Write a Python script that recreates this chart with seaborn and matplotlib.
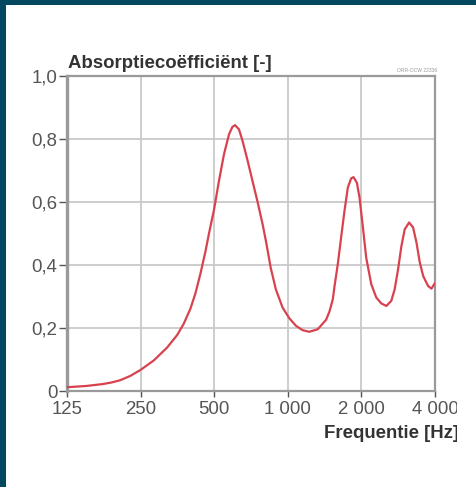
import numpy as np
import pandas as pd
import matplotlib.pyplot as plt
from matplotlib.patches import Rectangle
from matplotlib.ticker import FixedLocator, NullLocator
import seaborn as sns

sns.set_theme(style="white")
plt.rcParams['font.family'] = ['Liberation Sans', 'DejaVu Sans']

# values
freq = [125, 150, 175, 190, 206, 227, 250, 283, 321, 353, 375, 400, 419, 440,
        461, 476, 499, 523, 548, 575, 593, 608, 631, 652, 684, 717, 752, 788,
        813, 852, 894, 952, 1014, 1080, 1150, 1225, 1326, 1434, 1480, 1528,
        1551, 1601, 1652, 1705, 1760, 1816, 1857, 1917, 1965, 2029, 2093, 2195,
        2300, 2412, 2529, 2650, 2736, 2825, 2915, 3007, 3134, 3255, 3360, 3467,
        3578, 3750, 3869, 4000]
alpha = [0.012, 0.016, 0.022, 0.027, 0.034, 0.048, 0.067, 0.097, 0.138, 0.178,
         0.213, 0.262, 0.31, 0.375, 0.445, 0.5, 0.575, 0.667, 0.751, 0.815,
         0.838, 0.844, 0.831, 0.796, 0.733, 0.667, 0.601, 0.531, 0.478, 0.39,
         0.322, 0.265, 0.231, 0.207, 0.193, 0.188, 0.196, 0.226, 0.252, 0.291,
         0.33, 0.402, 0.487, 0.571, 0.646, 0.675, 0.679, 0.661, 0.614, 0.519,
         0.423, 0.339, 0.297, 0.278, 0.27, 0.286, 0.323, 0.386, 0.46, 0.513,
         0.535, 0.519, 0.471, 0.408, 0.365, 0.333, 0.325, 0.343]

xticks = [125, 250, 500, 1000, 2000, 4000]
xlabels = ['125', '250', '500', '1 000', '2 000', '4 000']
yticks = [0, 0.2, 0.4, 0.6, 0.8, 1.0]
ylabels = ['0', '0,2', '0,4', '0,6', '0,8', '1,0']

df = pd.DataFrame({'f': freq, 'a': alpha})

W, H = 476, 487
fig = plt.figure(figsize=(W / 100, H / 100), dpi=100, facecolor='#03485e')
# white page
fig.add_artist(Rectangle((6 / W, 0), 1, 1 - 5 / H, transform=fig.transFigure,
                         facecolor='white', edgecolor='none', zorder=-1))

ax = fig.add_axes([67 / W, 1 - 391 / H, (435 - 67) / W, (391 - 76) / H])
ax.set_facecolor('white')

sns.lineplot(data=df, x='f', y='a', ax=ax, color='#d8424e', linewidth=1.6,
             zorder=3)

ax.set_xscale('log', base=2)
ax.set_xlim(125, 4000)
ax.set_ylim(0, 1.0)
ax.xaxis.set_major_locator(FixedLocator(xticks))
ax.xaxis.set_minor_locator(NullLocator())
ax.set_xticklabels(xlabels)
ax.set_yticks(yticks)
ax.set_yticklabels(ylabels)
ax.set_xlabel('')
ax.set_ylabel('')

ax.grid(True, color='#c9c9c9', linewidth=1.3)
for s in ax.spines.values():
    s.set_color('#9a9a9a')
    s.set_linewidth(1.6)
ax.spines['left'].set_linewidth(2.4)

ax.tick_params(axis='both', which='major', labelsize=13.4, colors='#555555',
               length=6, width=1, direction='out', left=True, bottom=True)
ax.tick_params(axis='y', pad=1)
ax.tick_params(axis='x', length=4, pad=3)
for t in ax.get_xticklines() + ax.get_yticklines():
    t.set_color('#aaaaaa')

fig.text(68 / W, 1 - 64 / H, 'Absorptiecoëfficiënt [-]', fontsize=13.4,
         fontweight='bold', color='#333333', ha='left', va='center')
fig.text(437 / W, 1 - 70 / H, 'ORR-OCW 22336', fontsize=3.6, color='#999999',
         ha='right', va='center')
fig.text(459 / W, 1 - 434 / H, 'Frequentie [Hz]', fontsize=13.4,
         fontweight='bold', color='#333333', ha='right', va='center')

# the reference image is cut off at the right
fig.add_artist(Rectangle((457 / W, 0), 1, 1 - 5 / H, transform=fig.transFigure,
                         facecolor='white', edgecolor='none', zorder=10))

fig.savefig('out.png', dpi=100, facecolor=fig.get_facecolor())
